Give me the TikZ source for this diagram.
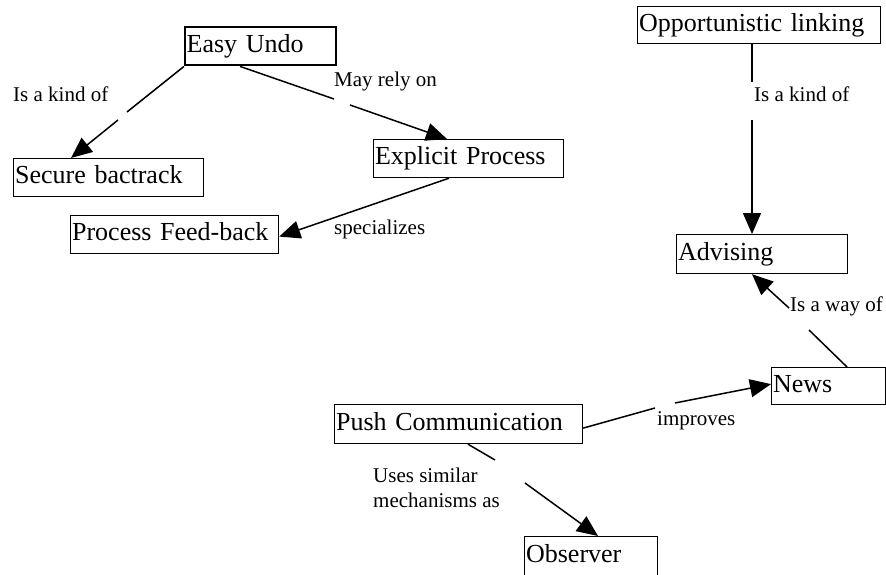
\documentclass[tikz,border=0pt]{standalone}
\usepackage{fontspec}
\setmainfont{Liberation Serif}
\usetikzlibrary{arrows.meta}

\begin{document}
\begin{tikzpicture}[x=1pt,y=-1pt,
	concept/.style={draw,line width=1.2pt,anchor=north west,inner xsep=1.5pt,inner ysep=0pt,
		align=left,text height=18pt,text depth=6pt,minimum height=38pt,
		font=\fontsize{26}{30}\selectfont},
	linkword/.style={anchor=base west,inner sep=0pt,align=left,font=\fontsize{21}{25}\selectfont},
	link/.style={line width=1.5pt},
	linkto/.style={line width=1.5pt,-{Triangle[length=21pt,width=18pt]}}]
	\useasboundingbox (0,0) rectangle (886,575);
	
	% concepts
	\node[concept,line width=2.4pt,text width=148pt] (easyundo) at (184,26) {Easy Undo};
	\node[concept,text width=187pt] (securebt) at (13,158) {Secure bactrack};
	\node[concept,text width=187pt] (explicit) at (373,139) {Explicit Process};
	\node[concept,text width=205pt] (feedback) at (70,215) {Process Feed-back};
	\node[concept,text width=240pt,minimum height=37pt] (opportun) at (637,6) {Opportunistic linking};
	\node[concept,text width=168pt,minimum height=39pt] (advising) at (676,234) {Advising};
	\node[concept,text width=111pt,minimum height=37pt] (news) at (771,367) {News};
	\node[concept,text width=245pt,minimum height=39pt] (pushcomm) at (334,404) {Push Communication};
	\node[concept,text width=130pt,minimum height=39pt] (observer) at (524,536) {Observer};
	
	% linking words
	\node[linkword] (kindleft) at (13,102) {Is a kind of};
	\node[linkword] (relyon) at (334,87) {May rely on};
	\node[linkword] (special) at (334,234) {specializes};
	\node[linkword] (kindright) at (754,102) {Is a kind of};
	\node[linkword] (wayof) at (790,311) {Is a way of};
	\node[linkword] (improves) at (657,425) {improves};
	\node[linkword,anchor=north west] (similar) at (373,467.5) {Uses similar\\mechanisms as};
	
	% gaps in the connectors
	\coordinate (kindA) at (127,112);
	\coordinate (kindB) at (118,120);
	\coordinate (relyA) at (334,99);
	\coordinate (relyB) at (350,105);
	\coordinate (oppA) at (752,82);
	\coordinate (oppB) at (752,120);
	\coordinate (wayA) at (809,330);
	\coordinate (wayB) at (789,308);
	\coordinate (impA) at (655,408);
	\coordinate (impB) at (675,403);
	\coordinate (simA) at (495,460);
	\coordinate (simB) at (525,483);
	
	% connectors
	\draw[link] (easyundo.south west) -- (kindA);
	\draw[linkto] (kindB) -- ([xshift=58pt]securebt.north west);
	\draw[link] ([xshift=56pt]easyundo.south west) -- (relyA);
	\draw[linkto] (relyB) -- ([xshift=74pt]explicit.north west);
	\draw[linkto] ([xshift=76pt]explicit.south west) -- ([yshift=-2pt]feedback.east);
	\draw[link] ([xshift=115pt]opportun.south west) -- (oppA);
	\draw[linkto] (oppB) -- ([xshift=76pt]advising.north west);
	\draw[link] ([xshift=76pt]news.north west) -- (wayA);
	\draw[linkto] (wayB) -- ([xshift=76pt]advising.south west);
	\draw[link] ([yshift=-4pt]pushcomm.east) -- (impA);
	\draw[linkto] (impB) -- ([yshift=2pt]news.west);
	\draw[link] ([xshift=134pt]pushcomm.south west) -- (simA);
	\draw[linkto] (simB) -- ([xshift=74pt]observer.north west);
\end{tikzpicture}
\end{document}
